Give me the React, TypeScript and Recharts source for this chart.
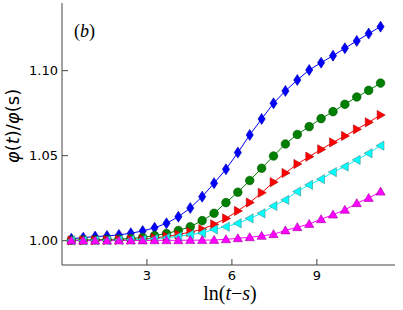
import React from 'react';
import { LineChart, Line, XAxis, YAxis } from 'recharts';

// ln(t-s) sample positions
const lnTs = [
  0.33, 0.75, 1.17, 1.59, 2.01, 2.43, 2.85, 3.27, 3.69, 4.11, 4.53, 4.95, 5.37, 5.79,
  6.21, 6.63, 7.05, 7.47, 7.89, 8.31, 8.73, 9.15, 9.57, 9.99, 10.41, 10.83, 11.25,
];

const blueVals = [
  1.0012, 1.0018, 1.0024, 1.0028, 1.0034, 1.0044, 1.0057, 1.0076, 1.0102, 1.0141, 1.0192,
  1.0259, 1.0338, 1.042, 1.0518, 1.0622, 1.0716, 1.0808, 1.0881, 1.0945, 1.1004, 1.1047,
  1.1088, 1.1132, 1.1175, 1.1218, 1.1259,
];
const greenVals = [
  1.0003, 1.0004, 1.0005, 1.0007, 1.0009, 1.0013, 1.0019, 1.003, 1.0042, 1.006, 1.0082,
  1.0118, 1.0161, 1.0224, 1.0285, 1.0354, 1.0426, 1.0498, 1.0569, 1.0625, 1.0671, 1.0718,
  1.0759, 1.0802, 1.0845, 1.0884, 1.0927,
];
const redVals = [
  1.0001, 1.0002, 1.0002, 1.0004, 1.0005, 1.0006, 1.001, 1.0016, 1.0025, 1.0036, 1.0051,
  1.0067, 1.0096, 1.0131, 1.0175, 1.0224, 1.0282, 1.0344, 1.0398, 1.0451, 1.0494, 1.0537,
  1.0578, 1.0616, 1.0655, 1.0696, 1.0739,
];
const cyanVals = [
  1.0001, 1.0001, 1.0002, 1.0002, 1.0004, 1.0005, 1.0007, 1.0011, 1.0017, 1.0025, 1.0036,
  1.0045, 1.0066, 1.0082, 1.0102, 1.0131, 1.0161, 1.0204, 1.024, 1.0289, 1.0328, 1.0362,
  1.0403, 1.0436, 1.0475, 1.0514, 1.0559,
];
const magentaVals = [
  1.0, 1.0, 1.0, 1.0, 1.0001, 1.0001, 1.0001, 1.0002, 1.0002, 1.0002, 1.0003, 1.0003,
  1.0004, 1.0008, 1.0014, 1.002, 1.0028, 1.0038, 1.006, 1.0079, 1.0098, 1.0126, 1.0153,
  1.0181, 1.022, 1.0251, 1.0288,
];

const xTicks = [3, 6, 9];
const yTicks = [1.0, 1.05, 1.1];

const data = lnTs.map((x, i) => ({
  x,
  b: blueVals[i],
  g: greenVals[i],
  r: redVals[i],
  c: cyanVals[i],
  m: magentaVals[i],
}));

const X_DOMAIN = [0, 11.76];
const Y_DOMAIN = [0.9857, 1.1398];
const AXIS = '#444';

const diamond = (p: any) => {
  const { cx, cy, index } = p;
  if (cx == null || cy == null) return <g key={`d${index}`} />;
  return (
    <path
      key={`d${index}`}
      d={`M${cx},${cy - 5.5}L${cx + 3.6},${cy}L${cx},${cy + 5.5}L${cx - 3.6},${cy}Z`}
      fill="#0000ff"
      stroke="#0000b0"
      strokeWidth={0.6}
    />
  );
};

const circle = (p: any) => {
  const { cx, cy, index } = p;
  if (cx == null || cy == null) return <g key={`c${index}`} />;
  return <circle key={`c${index}`} cx={cx} cy={cy} r={4.3} fill="#008000" stroke="#005500" strokeWidth={0.6} />;
};

const triRight = (p: any) => {
  const { cx, cy, index } = p;
  if (cx == null || cy == null) return <g key={`r${index}`} />;
  return (
    <path
      key={`r${index}`}
      d={`M${cx + 4.6},${cy}L${cx - 3.4},${cy - 4.6}L${cx - 3.4},${cy + 4.6}Z`}
      fill="#ff0000"
      stroke="#b00000"
      strokeWidth={0.6}
    />
  );
};

const triLeft = (p: any) => {
  const { cx, cy, index } = p;
  if (cx == null || cy == null) return <g key={`l${index}`} />;
  return (
    <path
      key={`l${index}`}
      d={`M${cx - 4.6},${cy}L${cx + 3.4},${cy - 4.6}L${cx + 3.4},${cy + 4.6}Z`}
      fill="#00ffff"
      stroke="#508a8a"
      strokeWidth={0.6}
    />
  );
};

const triUp = (p: any) => {
  const { cx, cy, index } = p;
  if (cx == null || cy == null) return <g key={`u${index}`} />;
  return (
    <path
      key={`u${index}`}
      d={`M${cx},${cy - 4.6}L${cx + 4.6},${cy + 3.4}L${cx - 4.6},${cy + 3.4}Z`}
      fill="#ff00ff"
      stroke="#a000a0"
      strokeWidth={0.6}
    />
  );
};

const tickStyle = { fill: '#000', fontSize: 13, fontFamily: 'DejaVu Sans' };

export default function App() {
  return (
    <div style={{ position: 'absolute', left: 0, top: 0, width: 403, height: 310, background: '#fff' }}>
      <LineChart width={403} height={310} data={data} margin={{ top: 3, right: 8, bottom: 0, left: 0 }}>
        <XAxis
          xAxisId="b"
          dataKey="x"
          type="number"
          domain={X_DOMAIN}
          allowDataOverflow
          ticks={xTicks}
          height={45}
          tickSize={-6}
          tickMargin={12}
          tick={tickStyle}
          stroke={AXIS}
        />
        <XAxis
          xAxisId="t"
          orientation="top"
          dataKey="x"
          type="number"
          domain={X_DOMAIN}
          allowDataOverflow
          ticks={xTicks}
          height={0}
          tickSize={-6}
          tickFormatter={() => ''}
          stroke={AXIS}
        />
        <YAxis
          yAxisId="l"
          type="number"
          domain={Y_DOMAIN}
          allowDataOverflow
          ticks={yTicks}
          width={62}
          tickSize={-6}
          tickMargin={10}
          tick={tickStyle}
          tickFormatter={(v: number) => v.toFixed(2)}
          stroke={AXIS}
        />
        <YAxis
          yAxisId="rt"
          orientation="right"
          type="number"
          domain={Y_DOMAIN}
          allowDataOverflow
          ticks={yTicks}
          width={0}
          tickSize={-6}
          tickFormatter={() => ''}
          stroke={AXIS}
        />
        <Line xAxisId="b" yAxisId="l" dataKey="b" stroke="#0000ff" strokeWidth={1} dot={diamond} isAnimationActive={false} />
        <Line xAxisId="b" yAxisId="l" dataKey="g" stroke="#008000" strokeWidth={1} dot={circle} isAnimationActive={false} />
        <Line xAxisId="b" yAxisId="l" dataKey="r" stroke="#ff0000" strokeWidth={1} dot={triRight} isAnimationActive={false} />
        <Line xAxisId="b" yAxisId="l" dataKey="c" stroke="#00ffff" strokeWidth={1} dot={triLeft} isAnimationActive={false} />
        <Line xAxisId="b" yAxisId="l" dataKey="m" stroke="#ff00ff" strokeWidth={1} dot={triUp} isAnimationActive={false} />
      </LineChart>
      <svg width={403} height={310} style={{ position: 'absolute', left: 0, top: 0, pointerEvents: 'none' }}>
        <text x={74} y={37} fontFamily="Liberation Serif" fontSize={18} fill="#000">
          (<tspan fontStyle="italic">b</tspan>)
        </text>
        <text
          x={0}
          y={0}
          transform="translate(19,126) rotate(-90)"
          textAnchor="middle"
          fontFamily="DejaVu Sans"
          fontSize={18}
          fill="#000"
        >
          <tspan fontStyle="italic">φ</tspan>(<tspan fontStyle="italic">t</tspan>)/<tspan fontStyle="italic">φ</tspan>(s)
        </text>
        <text x={230} y={300} textAnchor="middle" fontFamily="Liberation Serif" fontSize={20} fill="#000">
          ln(<tspan fontStyle="italic">t</tspan>−<tspan fontStyle="italic">s</tspan>)
        </text>
      </svg>
    </div>
  );
}
